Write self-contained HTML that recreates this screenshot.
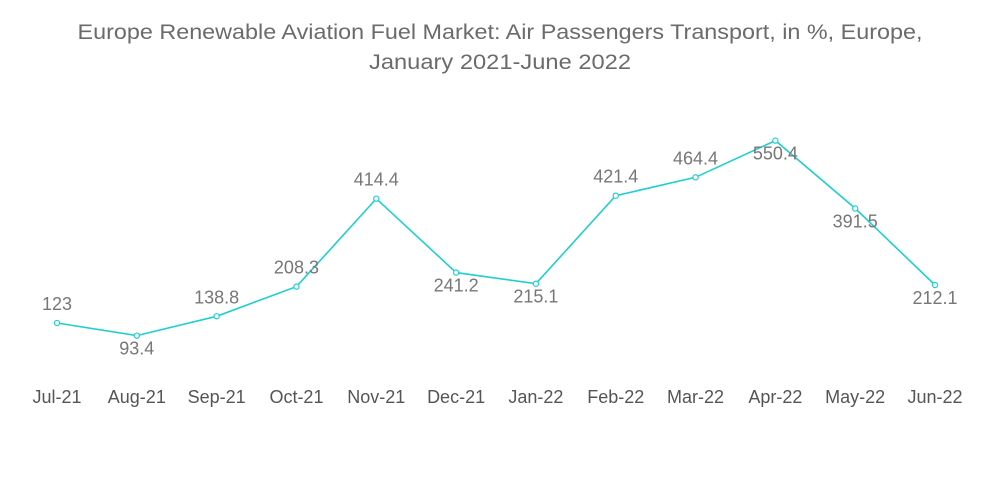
<!DOCTYPE html>
<html><head><meta charset="utf-8"><style>
html,body{margin:0;padding:0;background:#fff;}
svg{display:block;font-family:"Liberation Sans",sans-serif;}
</style></head><body>
<svg id="chart" width="1000" height="504" viewBox="0 0 1000 504">
<text x="500" y="39" text-anchor="middle" font-size="21" fill="#6b6b6b" textLength="845" lengthAdjust="spacingAndGlyphs">Europe Renewable Aviation Fuel Market: Air Passengers Transport, in %, Europe,</text>
<text x="500" y="69" text-anchor="middle" font-size="21" fill="#6b6b6b" textLength="262" lengthAdjust="spacingAndGlyphs">January 2021-June 2022</text>
<g id="plot"></g>
</svg>
<script>
const categories = ["Jul-21","Aug-21","Sep-21","Oct-21","Nov-21","Dec-21","Jan-22","Feb-22","Mar-22","Apr-22","May-22","Jun-22"];
const values = [123, 93.4, 138.8, 208.3, 414.4, 241.2, 215.1, 421.4, 464.4, 550.4, 391.5, 212.1];
const valueLabels = ["123","93.4","138.8","208.3","414.4","241.2","215.1","421.4","464.4","550.4","391.5","212.1"];
const labelSide = ["above","below","above","above","above","below","below","above","above","below","below","below"];

const NS = "http://www.w3.org/2000/svg";
const g = document.getElementById("plot");
const x0 = 57, step = (935 - 57) / (categories.length - 1);
function xScale(i){ return x0 + i * step; }
function yScale(v){ return 375.5 - v * 0.4267; }

const pts = values.map((v,i)=>xScale(i).toFixed(1)+","+yScale(v).toFixed(1)).join(" ");
const line = document.createElementNS(NS,"polyline");
line.setAttribute("points", pts);
line.setAttribute("fill","none");
line.setAttribute("stroke","#1fcfcf");
line.setAttribute("stroke-width","1.6");


g.appendChild(line);

values.forEach((v,i)=>{
  const c = document.createElementNS(NS,"circle");
  c.setAttribute("cx", xScale(i)); c.setAttribute("cy", yScale(v));
  c.setAttribute("r","2.6"); c.setAttribute("fill","#fff");
  c.setAttribute("stroke","#1fcfcf"); c.setAttribute("stroke-width","1.2");
  
  
  g.appendChild(c);

  const t = document.createElementNS(NS,"text");
  t.setAttribute("x", xScale(i));
  t.setAttribute("y", yScale(v) + (labelSide[i]==="above" ? -13 : 19));
  t.setAttribute("text-anchor","middle"); t.setAttribute("font-size","18");
  t.setAttribute("fill","#777");
  t.textContent = valueLabels[i];
  
  
  g.appendChild(t);

  const a = document.createElementNS(NS,"text");
  a.setAttribute("x", xScale(i)); a.setAttribute("y", 403);
  a.setAttribute("text-anchor","middle"); a.setAttribute("font-size","18");
  a.setAttribute("fill","#555");
  a.textContent = categories[i];
  
  
  g.appendChild(a);
});
</script>
</body></html>
